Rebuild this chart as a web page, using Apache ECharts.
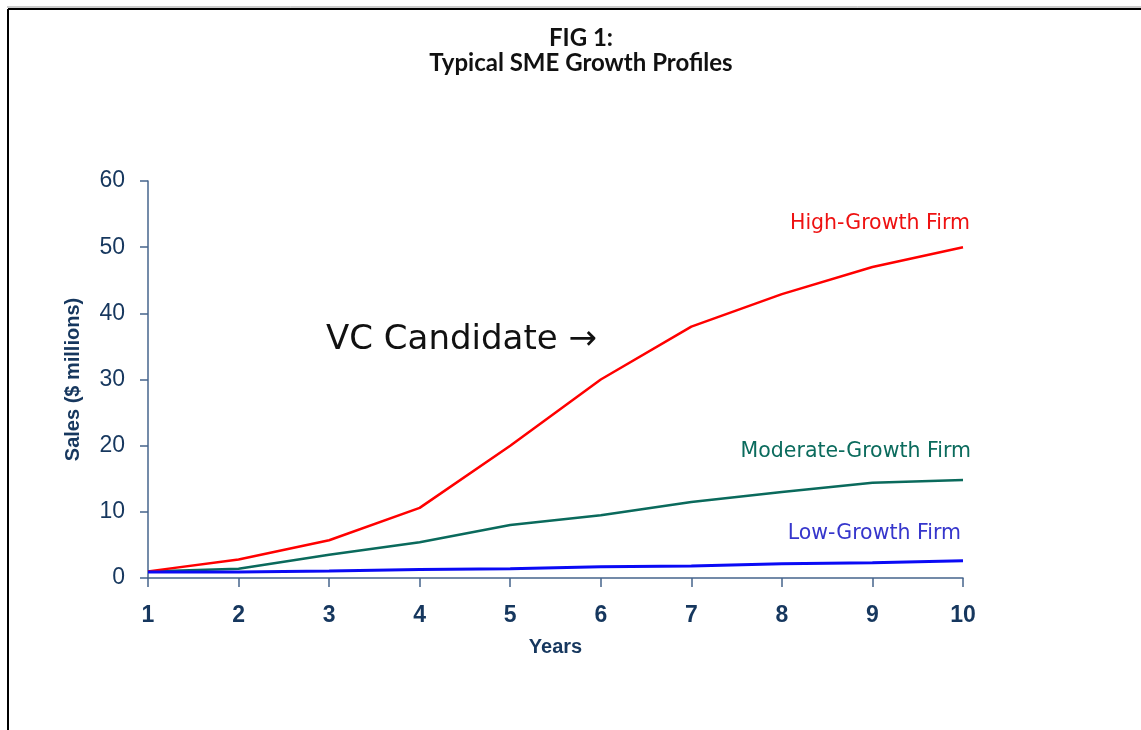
<!DOCTYPE html>
<html>
<head>
    <meta charset="utf-8">
    <title>Typical SME Growth Profiles</title>
    <script type="text/javascript" src="https://cdn.jsdelivr.net/npm/echarts@6/dist/echarts.min.js"></script>
    <style>
        html, body { margin: 0; padding: 0; background: #fff; }
    </style>
</head>
<body>
    <div id="main" style="width: 1141px; height: 730px;"></div>
    <script type="text/javascript">
    // data
    var years = ['1', '2', '3', '4', '5', '6', '7', '8', '9', '10'];
    var highGrowth = [1, 2.8, 5.7, 10.6, 20, 30, 38, 42.9, 47, 50];
    var moderateGrowth = [1, 1.4, 3.5, 5.4, 8, 9.5, 11.5, 13, 14.4, 14.8];
    var lowGrowth = [0.9, 0.9, 1.05, 1.3, 1.4, 1.7, 1.8, 2.15, 2.3, 2.6];
    var seriesNames = ['High-Growth Firm', 'Moderate-Growth Firm', 'Low-Growth Firm'];

    var axisColor = '#46648c';
    var labelColor = '#16375e';

    var myChart = echarts.init(document.getElementById('main'));

    // label sitting above the last point of a line
    function endMark(name, values, color, dx, dy) {
        var last = values.length - 1;
        return {
            symbol: 'circle',
            symbolSize: 0,
            silent: true,
            data: [{ coord: [years[last], values[last]] }],
            label: {
                show: true,
                formatter: name,
                position: [dx, dy],
                align: 'right',
                verticalAlign: 'middle',
                color: color,
                fontFamily: 'DejaVu Sans',
                fontSize: 20.5
            }
        };
    }

    var option = {
        animation: false,
        backgroundColor: '#fff',
        title: {
            text: 'FIG 1:\nTypical SME Growth Profiles',
            left: 576,
            top: 21,
            textAlign: 'center',
            textStyle: {
                fontFamily: 'Lato',
                fontWeight: 'bold',
                fontSize: 24,
                lineHeight: 25,
                color: '#111'
            }
        },
        graphic: [
            // frame of the original figure
            { type: 'line', shape: { x1: 7, y1: 7, x2: 1141, y2: 7 }, style: { stroke: '#999', lineWidth: 1 } },
            { type: 'line', shape: { x1: 8, y1: 9, x2: 1141, y2: 9 }, style: { stroke: '#000', lineWidth: 2 } },
            { type: 'line', shape: { x1: 8, y1: 9, x2: 8, y2: 730 }, style: { stroke: '#000', lineWidth: 2 } },
            {
                type: 'text',
                left: 326,
                top: 323,
                style: {
                    text: 'VC Candidate \u2192',
                    fontFamily: 'DejaVu Sans',
                    fontSize: 34,
                    fill: '#111'
                }
            }
        ],
        grid: {
            left: 148,
            right: 178,
            top: 181,
            bottom: 152
        },
        xAxis: {
            type: 'category',
            data: years,
            boundaryGap: false,
            name: 'Years',
            nameLocation: 'middle',
            nameGap: 59,
            nameTextStyle: {
                fontFamily: 'Liberation Sans',
                fontWeight: 'bold',
                fontSize: 20,
                color: labelColor
            },
            axisLine: { lineStyle: { color: axisColor, width: 1.5 } },
            axisTick: { length: 9, lineStyle: { color: axisColor, width: 1.5 } },
            axisLabel: {
                margin: 26,
                fontFamily: 'Liberation Sans',
                fontWeight: 'bold',
                fontSize: 23,
                color: labelColor
            },
            splitLine: { show: false }
        },
        yAxis: {
            type: 'value',
            min: 0,
            max: 60,
            interval: 10,
            name: 'Sales ($ millions)',
            nameLocation: 'middle',
            nameGap: 65,
            nameTextStyle: {
                fontFamily: 'Liberation Sans',
                fontWeight: 'bold',
                fontSize: 20,
                color: labelColor
            },
            axisLine: { show: true, lineStyle: { color: axisColor, width: 1.5 } },
            axisTick: { show: true, length: 8, lineStyle: { color: axisColor, width: 1.5 } },
            axisLabel: {
                margin: 23,
                fontFamily: 'Liberation Sans',
                fontSize: 23,
                color: labelColor
            },
            splitLine: { show: false }
        },
        series: [{
            name: seriesNames[0],
            type: 'line',
            data: highGrowth,
            showSymbol: false,
            lineStyle: { color: '#ff0000', width: 2.5 },
            itemStyle: { color: '#ff0000' },
            z: 4,
            markPoint: endMark(seriesNames[0], highGrowth, '#ee1111', 7, -23)
        }, {
            name: seriesNames[1],
            type: 'line',
            data: moderateGrowth,
            showSymbol: false,
            lineStyle: { color: '#0a6a5c', width: 2.5 },
            itemStyle: { color: '#0a6a5c' },
            z: 3,
            markPoint: endMark(seriesNames[1], moderateGrowth, '#0b6b5d', 8, -28)
        }, {
            name: seriesNames[2],
            type: 'line',
            data: lowGrowth,
            showSymbol: false,
            lineStyle: { color: '#0a0af5', width: 3 },
            itemStyle: { color: '#0a0af5' },
            z: 5,
            markPoint: endMark(seriesNames[2], lowGrowth, '#3636cc', -2, -27)
        }]
    };

    myChart.setOption(option);
    </script>
</body>
</html>
